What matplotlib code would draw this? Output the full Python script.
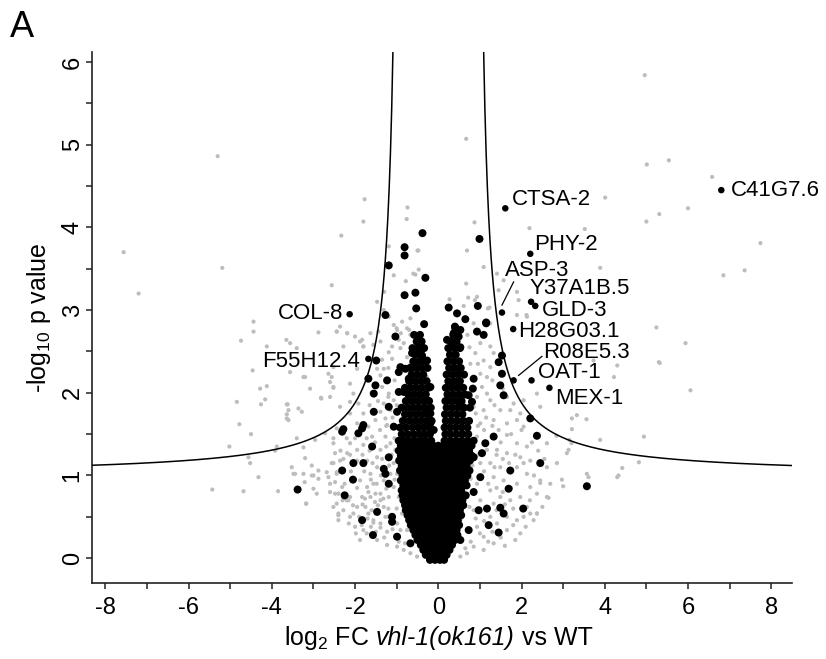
import matplotlib.pyplot as plt
import numpy as np
from matplotlib.offsetbox import TextArea, HPacker, AnchoredOffsetbox

plt.rcParams['font.family'] = ['Liberation Sans', 'DejaVu Sans']
plt.rcParams['axes.unicode_minus'] = False
plt.rcParams['mathtext.fontset'] = 'custom'
plt.rcParams['mathtext.rm'] = 'Liberation Sans'
plt.rcParams['mathtext.it'] = 'Liberation Sans:italic'

# ---- data: (log2 FC, -log10 p) ----
grey_pts = [
    # far field, top
    (-5.30, 4.86), (-7.56, 3.70), (-7.20, 3.20), (-5.19, 3.51), (-1.77, 4.34), (-1.80, 4.07),
    (-2.33, 3.90), (-2.56, 3.30), (-4.44, 2.86), (-0.74, 4.24), (-0.76, 4.10), (-1.19, 3.77),
    (-1.07, 3.42), (-0.50, 3.72), (-0.78, 3.35), (-0.60, 3.44), (-1.47, 3.10), (-1.30, 3.22),
    (-1.31, 3.00), (-2.36, 2.80), (-1.00, 2.78), (-0.90, 2.72), (-0.70, 2.76), (-0.48, 3.72),
    (-0.55, 3.43), (-0.47, 3.49),
    (4.96, 5.84), (0.67, 5.07), (5.01, 4.76), (5.54, 4.81), (6.58, 4.61), (4.01, 4.36),
    (6.00, 4.23), (5.31, 4.16), (5.00, 4.07), (7.74, 3.81), (6.85, 3.42), (7.36, 3.48),
    (3.52, 3.98), (2.19, 3.99), (3.89, 3.51), (0.87, 4.06), (0.69, 3.72), (1.09, 3.52),
    (0.67, 3.32), (1.41, 3.44), (1.93, 3.12), (2.12, 2.94), (1.45, 3.24), (0.72, 3.15),
    (0.88, 3.12), (0.93, 3.16), (1.19, 3.02), (1.57, 3.36), (0.27, 3.13), (1.23, 3.03),
    (0.61, 3.05), (1.89, 3.22),
    # right field
    (5.30, 2.37), (4.30, 2.33), (4.22, 2.19), (3.73, 2.39), (3.21, 1.69), (3.33, 1.73),
    (3.56, 1.68), (3.21, 1.56), (2.84, 1.48), (3.89, 1.43), (4.94, 1.47), (3.15, 1.43),
    (3.20, 1.39), (3.09, 1.27), (3.13, 1.31), (2.61, 1.10), (2.85, 1.15), (4.42, 1.09),
    (4.82, 1.16), (4.30, 0.98), (3.57, 1.02), (3.61, 0.98), (2.97, 0.95), (3.00, 0.87),
    (2.65, 0.73), (2.45, 0.91), (5.24, 2.79), (5.94, 2.60), (5.32, 2.36), (6.06, 2.03),
    (4.33, 1.00), (2.21, 0.54), (2.37, 0.54),
    # left field
    (-4.44, 2.74), (-4.74, 2.63), (-3.65, 2.64), (-3.56, 2.60), (-2.88, 2.73), (-2.44, 2.74),
    (-2.19, 2.72), (-1.88, 2.62), (-1.80, 2.56), (-4.12, 2.56), (-3.40, 2.54), (-4.46, 2.27),
    (-3.20, 2.19), (-2.52, 2.31), (-1.95, 2.29), (-4.28, 2.05), (-4.12, 2.08), (-3.08, 2.05),
    (-2.52, 2.06), (-4.84, 1.89), (-4.16, 1.92), (-3.64, 1.86), (-3.60, 1.79), (-3.36, 1.81),
    (-3.28, 1.77), (-2.82, 1.94), (-2.12, 1.89), (-3.64, 1.69), (-4.78, 1.62), (-4.50, 1.50),
    (-2.44, 1.57), (-1.88, 1.51), (-5.02, 1.35), (-3.88, 1.35), (-3.40, 1.45), (-2.52, 1.45),
    (-4.56, 1.22), (-4.52, 1.15), (-3.52, 1.10), (-3.04, 1.12), (-2.88, 1.06), (-3.48, 1.02),
    (-3.24, 1.02), (-3.04, 1.00), (-4.32, 0.98), (-2.52, 1.15), (-2.28, 1.20), (-2.12, 1.25),
    (-5.43, 0.83), (-4.68, 0.81), (-3.85, 0.81), (-3.17, 0.66), (-2.92, 0.78), (-2.60, 0.80),
    (-2.40, 0.54), (-2.04, 0.54), (-2.20, 0.70), (-1.68, 0.54), (-1.56, 0.43), (-1.84, 0.40),
    (-1.39, 0.37), (-1.03, 0.27), (-1.19, 0.50), (-1.68, 0.80), (-1.76, 0.72), (-1.52, 0.68),
    (-3.56, 2.25), (-3.24, 2.19), (-2.64, 2.23), (-2.60, 2.13), (-2.52, 2.07), (-2.81, 1.93),
    (-4.26, 1.86), (-3.62, 1.86), (-3.64, 1.74), (-3.60, 1.67), (-3.92, 1.30), (-3.24, 1.34),
    (-2.96, 1.43), (-2.72, 1.51), (-3.20, 1.21), (-3.44, 1.02), (-3.21, 0.92), (-3.00, 1.00),
    (-2.88, 0.96), (-2.68, 1.04), (-2.64, 0.98), (-3.00, 0.84), (-3.18, 0.66), (-2.44, 1.04),
    (-2.48, 0.92), (-2.40, 0.78), (-2.44, 0.66), (-2.40, 0.52),
    # left arm halo
    (-1.19, 2.92), (-1.07, 2.82), (-0.87, 2.86), (-0.67, 2.90), (-0.99, 2.76), (-0.75, 2.78),
    (-0.95, 2.64), (-0.83, 2.60), (-0.67, 2.70), (-1.11, 2.56), (-0.91, 2.54), (-1.19, 2.49),
    (-1.39, 2.62), (-1.44, 2.74), (-1.63, 2.72), (-1.83, 2.64), (-1.80, 2.56), (-1.56, 2.58),
    (-2.44, 2.74), (-2.19, 2.72), (-2.00, 2.68), (-2.28, 2.56), (-1.47, 2.29), (-1.31, 2.29),
    (-1.39, 2.21), (-1.11, 2.41), (-0.75, 2.43), (-0.67, 2.35), (-0.55, 2.21), (-0.27, 2.19),
    (-1.35, 2.07), (-1.19, 1.99), (-1.07, 1.91), (-1.31, 1.87), (-0.75, 1.91), (-0.67, 1.85),
    (-1.15, 1.79), (-1.39, 1.77), (-1.51, 1.67), (-1.27, 1.69), (-1.23, 1.61), (-0.91, 1.67),
    (-0.55, 1.61), (-1.68, 1.59), (-1.95, 1.63), (-2.12, 1.75), (-2.36, 1.83), (-2.60, 1.95),
    (-2.56, 2.19), (-2.12, 2.11), (-2.04, 1.99), (-1.92, 1.87),
    (-1.10, 1.70), (-1.00, 1.85), (-1.20, 1.95), (-1.45, 1.90), (-1.65, 1.85), (-1.80, 1.75),
    (-1.60, 2.00), (-1.35, 2.40), (-1.20, 2.30), (-1.05, 2.15), (-1.40, 1.55), (-1.25, 1.60),
    # right arm halo
    (1.89, 2.94), (2.13, 2.92), (1.25, 2.84), (0.85, 2.84), (1.01, 2.60), (1.25, 2.56),
    (1.33, 2.48), (0.89, 2.48), (1.09, 2.39), (1.25, 2.31), (1.01, 2.23), (0.77, 2.35),
    (0.61, 2.23), (1.17, 2.19), (0.53, 2.11), (1.05, 2.07), (1.17, 1.99), (0.93, 1.95),
    (1.25, 1.91), (1.65, 1.95), (1.81, 1.87), (2.05, 1.91), (1.49, 1.79), (1.73, 1.79),
    (1.97, 1.75), (1.09, 1.79), (0.85, 1.83), (0.61, 1.87), (0.53, 1.99), (1.33, 1.67),
    (1.01, 1.63), (0.69, 1.67), (1.65, 1.63), (1.89, 1.67), (2.05, 1.59), (2.37, 1.99),
    (2.45, 1.83),
    (1.30, 1.60), (1.45, 1.55), (1.75, 1.50), (2.00, 1.55), (2.25, 1.40), (1.10, 1.55),
    (0.95, 1.60), (0.90, 1.75), (1.15, 1.70), (1.35, 1.85), (1.55, 2.05), (1.30, 2.15),
    (0.95, 2.35), (0.75, 2.55), (0.70, 2.70),
    # left core halo
    (-2.52, 1.39), (-2.48, 1.27), (-2.56, 1.15), (-2.44, 1.02), (-2.60, 0.90), (-2.48, 0.78),
    (-2.52, 0.62), (-2.28, 0.58), (-2.40, 0.46), (-2.12, 0.50), (-2.00, 0.38), (-2.16, 0.70),
    (-1.95, 0.62), (-1.83, 0.74), (-1.71, 0.86), (-1.88, 0.94), (-1.63, 1.02), (-1.47, 1.10),
    (-1.71, 1.18), (-1.47, 1.22), (-2.12, 1.39), (-1.80, 1.37), (-2.36, 1.18), (-2.19, 1.27),
    (-1.95, 1.31), (-1.59, 1.47), (-1.27, 1.47), (-1.15, 1.39), (-1.39, 1.31), (-1.07, 1.15),
    (-1.56, 0.90), (-1.39, 0.78), (-1.63, 0.74), (-1.75, 0.62), (-1.56, 0.46), (-1.31, 0.62),
    (-1.39, 0.42), (-1.23, 0.32), (-1.80, 0.34), (-1.47, 0.22), (-1.23, 0.16), (-0.99, 0.14),
    (-0.83, 0.10), (-0.67, 0.06), (-0.51, 0.02), (-1.88, 0.22), (-2.12, 0.74), (-2.31, 0.86),
    (-1.19, 0.74), (-1.27, 0.50), (-0.99, 0.42), (-0.91, 0.34), (-1.07, 0.86), (-1.15, 1.02),
    (-1.31, 0.94), (-1.51, 0.78), (-1.39, 0.70), (-1.03, 1.31), (-0.99, 1.02), (-0.95, 0.74),
    (-0.87, 0.54), (-0.75, 0.34),
    (-1.05, 1.45), (-1.12, 1.25), (-1.18, 1.12), (-1.25, 0.84), (-1.32, 0.72), (-1.45, 0.64),
    (-1.60, 0.58), (-1.70, 0.48), (-1.90, 0.50), (-2.05, 0.64), (-2.25, 0.90), (-2.10, 1.05),
    (-1.95, 1.18), (-1.82, 1.25), (-1.65, 1.30), (-1.52, 1.40), (-1.00, 0.60), (-1.10, 0.35),
    (-1.30, 0.25), (-0.95, 0.20), (-0.80, 0.18), (-1.50, 0.32), (-1.62, 0.38), (-1.72, 0.30),
    (-1.98, 0.30), (-2.15, 0.42), (-2.30, 0.70), (-2.35, 1.30), (-2.20, 1.45), (-2.00, 1.45),
    (-1.72, 1.45), (-1.35, 1.20), (-1.25, 1.35), (-1.58, 1.15), (-1.78, 1.05), (-1.95, 0.85),
    (-1.82, 0.65), (-1.48, 0.90), (-1.62, 0.95), (-1.38, 1.00), (-1.20, 0.60), (-1.05, 0.95),
    # right core halo
    (0.69, 1.49), (0.93, 1.47), (1.65, 1.49), (1.89, 1.39), (2.13, 1.35), (2.61, 1.39),
    (1.41, 1.31), (1.65, 1.27), (1.97, 1.22), (2.21, 1.18), (1.25, 1.15), (1.49, 1.10),
    (1.89, 1.10), (2.13, 1.02), (2.45, 0.94), (2.61, 0.74), (1.33, 0.98), (1.57, 0.94),
    (1.89, 0.90), (2.21, 0.86), (1.25, 0.82), (1.49, 0.74), (1.97, 0.74), (2.37, 0.78),
    (1.01, 0.70), (1.33, 0.66), (1.73, 0.70), (2.13, 0.62), (2.37, 0.54), (0.85, 0.58),
    (1.25, 0.50), (1.65, 0.50), (1.89, 0.46), (0.93, 0.38), (1.41, 0.42), (1.09, 0.26),
    (1.33, 0.18), (0.85, 0.14), (0.69, 0.06), (0.53, 0.02), (1.09, 0.10), (1.65, 0.34),
    (1.97, 0.30), (2.29, 0.46), (2.69, 0.90), (0.77, 1.06), (0.93, 0.90), (0.69, 0.74),
    (0.53, 0.46), (0.53, 0.90), (0.61, 1.31), (0.77, 1.43), (1.01, 1.15), (1.17, 1.31),
    (0.80, 1.35), (0.95, 1.25), (1.10, 1.05), (1.20, 0.90), (1.40, 0.85), (1.55, 0.80),
    (1.75, 0.85), (1.80, 0.60), (1.60, 0.65), (1.40, 0.58), (1.10, 0.45), (1.00, 0.30),
    (1.20, 0.20), (1.50, 0.25), (1.80, 0.40), (2.05, 0.50), (2.20, 0.70), (2.30, 1.00),
    (2.05, 1.15), (1.85, 1.25), (1.50, 1.40), (0.78, 0.20), (0.65, 0.12), (0.90, 0.48),
    (0.75, 0.62), (0.65, 0.88), (0.78, 0.96), (0.82, 1.12), (1.30, 0.32), (1.60, 0.15),
    (1.85, 0.22), (2.10, 0.38), (2.50, 0.62), (2.55, 1.20), (2.40, 1.30), (1.55, 1.20),
    (1.70, 1.15), (1.35, 1.10), (1.40, 1.25),
]

# dense black core, one row per -log10 p level
core_rows = [
    (-0.02, [-0.20, -0.08, 0.04, 0.14]),
    (0.04, [-0.30, -0.17, -0.04, 0.09, 0.20]),
    (0.10, [-0.36, -0.24, -0.11, 0.02, 0.15, 0.27]),
    (0.16, [-0.42, -0.30, -0.17, -0.04, 0.09, 0.22, 0.33]),
    (0.22, [-0.50, -0.37, -0.24, -0.11, 0.02, 0.15, 0.28, 0.40]),
    (0.28, [-0.55, -0.42, -0.29, -0.16, -0.03, 0.10, 0.23, 0.36, 0.46]),
    (0.34, [-0.60, -0.47, -0.34, -0.21, -0.08, 0.05, 0.18, 0.31, 0.44]),
    (0.40, [-0.66, -0.53, -0.40, -0.27, -0.14, -0.01, 0.12, 0.25, 0.38, 0.50]),
    (0.46, [-0.70, -0.57, -0.44, -0.31, -0.18, -0.05, 0.08, 0.21, 0.34, 0.47]),
    (0.52, [-0.74, -0.61, -0.48, -0.35, -0.22, -0.09, 0.04, 0.17, 0.30, 0.43, 0.55]),
    (0.58, [-0.78, -0.65, -0.52, -0.39, -0.26, -0.13, 0.00, 0.13, 0.26, 0.39, 0.52]),
    (0.64, [-0.80, -0.67, -0.54, -0.41, -0.28, -0.15, -0.02, 0.11, 0.24, 0.37, 0.50, 0.60]),
    (0.70, [-0.84, -0.71, -0.58, -0.45, -0.32, -0.19, -0.06, 0.07, 0.20, 0.33, 0.46, 0.58]),
    (0.76, [-0.86, -0.73, -0.60, -0.47, -0.34, -0.21, -0.08, 0.05, 0.18, 0.31, 0.44, 0.57, 0.66]),
    (0.82, [-0.88, -0.75, -0.62, -0.49, -0.36, -0.23, -0.10, 0.03, 0.16, 0.29, 0.42, 0.55]),
    (0.88, [-0.84, -0.71, -0.58, -0.45, -0.32, -0.19, -0.06, 0.07, 0.20, 0.33, 0.46, 0.59, 0.68]),
    (0.94, [-0.90, -0.77, -0.64, -0.51, -0.38, -0.25, -0.12, 0.01, 0.14, 0.27, 0.40, 0.53, 0.64]),
    (1.00, [-0.86, -0.73, -0.60, -0.47, -0.34, -0.21, -0.08, 0.05, 0.18, 0.31, 0.44, 0.57, 0.70]),
    (1.06, [-0.92, -0.79, -0.66, -0.53, -0.40, -0.27, -0.14, -0.01, 0.12, 0.25, 0.38, 0.51, 0.64, 0.75]),
    (1.12, [-0.88, -0.75, -0.62, -0.49, -0.36, -0.23, -0.10, 0.03, 0.16, 0.29, 0.42, 0.55, 0.68]),
    (1.18, [-0.94, -0.81, -0.68, -0.55, -0.42, -0.29, -0.16, -0.03, 0.10, 0.23, 0.36, 0.49, 0.62, 0.76]),
    (1.24, [-0.90, -0.77, -0.64, -0.51, -0.38, -0.25, -0.12, 0.01, 0.14, 0.27, 0.40, 0.53, 0.66, 0.80]),
    (1.30, [-0.95, -0.82, -0.69, -0.56, -0.43, -0.30, -0.17, -0.04, 0.09, 0.22, 0.35, 0.48, 0.61, 0.74]),
    (1.36, [-0.90, -0.78, -0.64, -0.50, -0.37, -0.24, -0.12, 0.00, 0.12, 0.25, 0.38, 0.52, 0.66, 0.80]),
    (1.42, [-0.95, -0.83, -0.70, -0.56, -0.42, -0.30, -0.17, 0.15, 0.28, 0.42, 0.56, 0.70, 0.85]),
    (1.50, [-0.88, -0.74, -0.60, -0.46, -0.33, -0.20, 0.17, 0.30, 0.44, 0.58, 0.72]),
    (1.58, [-0.92, -0.78, -0.62, -0.48, -0.35, -0.22, 0.15, 0.28, 0.42, 0.56, 0.70]),
    (1.66, [-0.85, -0.70, -0.56, -0.42, -0.28, -0.16, 0.18, 0.32, 0.46, 0.60, 0.74]),
    (1.74, [-0.80, -0.66, -0.52, -0.38, -0.25, 0.16, 0.30, 0.44, 0.58]),
    (1.82, [-0.88, -0.74, -0.60, -0.46, -0.32, -0.18, 0.20, 0.34, 0.48, 0.62, 0.76]),
    (1.90, [-0.78, -0.64, -0.50, -0.36, -0.22, 0.17, 0.30, 0.44, 0.56]),
    (1.98, [-0.72, -0.58, -0.44, -0.30, 0.22, 0.36, 0.50, 0.64]),
    (2.06, [-0.80, -0.66, -0.52, -0.38, -0.24, 0.18, 0.32, 0.46, 0.60]),
    (2.14, [-0.70, -0.56, -0.42, -0.28, 0.24, 0.38, 0.52]),
    (2.22, [-0.64, -0.50, -0.36, 0.20, 0.34, 0.48, 0.62]),
    (2.30, [-0.68, -0.54, -0.40, -0.26, 0.26, 0.40, 0.54]),
    (2.38, [-0.60, -0.46, -0.32, 0.22, 0.36, 0.50]),
    (2.46, [-0.55, -0.41, 0.28, 0.42]),
    (2.54, [-0.62, -0.48, -0.34, 0.24, 0.38, 0.52]),
    (2.62, [-0.52, -0.40, 0.30, 0.44]),
    (2.70, [-0.58, -0.44, 0.36]),
]

black_pts = [
    (-0.38, 3.93), (0.99, 3.86), (-0.81, 3.76), (-0.81, 3.66), (-1.19, 3.54), (-0.31, 3.39),
    (-0.81, 3.18), (-0.55, 3.21), (-0.53, 3.02), (-1.27, 2.94), (0.25, 3.03), (0.45, 2.96),
    (0.65, 2.89), (0.95, 3.05), (1.15, 2.85), (-0.34, 2.83), (0.40, 2.80),
    (-1.03, 2.68), (-0.47, 2.64), (-0.45, 2.56), (-0.63, 2.48), (-0.39, 2.45), (-0.27, 2.39),
    (-1.49, 2.39), (-0.91, 2.31), (-0.95, 2.25), (-0.79, 2.29), (-1.68, 2.17), (-1.23, 2.15),
    (-0.71, 2.17), (-1.51, 2.09), (-1.55, 1.99), (-0.95, 2.01), (-0.83, 2.01), (-0.19, 2.07),
    (-0.27, 1.91), (-1.55, 1.77), (-1.19, 1.83), (-0.99, 1.77), (-0.19, 1.75), (-0.19, 1.63),
    (-1.80, 1.61), (-1.83, 1.57), (-2.28, 1.56), (-1.07, 1.59), (-0.11, 1.55),
    (-2.31, 1.53), (-1.92, 1.51), (-1.59, 1.35), (-1.19, 1.22), (-2.04, 1.15), (-1.80, 1.15),
    (-2.31, 1.06), (-1.31, 1.08), (-1.27, 1.02), (-2.05, 0.95), (-1.19, 0.90), (-2.25, 0.76),
    (-1.47, 0.56), (-1.11, 0.50), (-1.11, 0.44), (-1.83, 0.46), (-1.57, 0.28), (-0.99, 0.26),
    (-0.67, 0.18), (-3.38, 0.83),
    (1.33, 1.47), (1.13, 1.39), (2.37, 1.48), (0.85, 1.22), (1.05, 1.27), (2.45, 1.15),
    (1.73, 1.06), (1.01, 0.98), (1.69, 0.84), (0.85, 0.80), (1.17, 0.60), (1.49, 0.61),
    (1.57, 0.54), (2.04, 0.60), (0.97, 0.58), (1.21, 0.40), (1.45, 0.31), (0.73, 0.34),
    (0.53, 0.22), (3.57, 0.87),
    (1.15, 2.84), (0.41, 2.78), (0.53, 2.76), (0.37, 2.72), (0.49, 2.68), (0.93, 2.74),
    (1.09, 2.70), (0.21, 2.64), (0.37, 2.60), (0.53, 2.55), (1.53, 2.45), (1.45, 2.37),
    (1.53, 2.23), (1.49, 2.09), (1.57, 1.97), (0.85, 2.17), (0.83, 2.05), (0.73, 1.97),
    (0.81, 1.89), (2.21, 1.69),
]

genes = ['C41G7.6', 'CTSA-2', 'PHY-2', 'ASP-3', 'Y37A1B.5', 'GLD-3', 'H28G03.1',
         'R08E5.3', 'OAT-1', 'MEX-1', 'COL-8', 'F55H12.4']
gene_fc = [6.80, 1.61, 2.21, 1.53, 2.23, 2.33, 1.80, 1.81, 2.24, 2.67, -2.13, -1.68]
gene_p = [4.45, 4.23, 3.68, 2.97, 3.10, 3.05, 2.77, 2.15, 2.15, 2.06, 2.95, 2.41]
label_fc = [7.04, 1.77, 2.31, 1.59, 2.20, 2.49, 1.93, 2.53, 2.39, 2.81, -2.28, -1.88]
label_p = [4.45, 4.34, 3.79, 3.48, 3.26, 3.00, 2.74, 2.49, 2.25, 1.93, 2.96, 2.38]
label_ha = ['left'] * 10 + ['right', 'right']
# leader lines: ASP-3 and R08E5.3
leaders = [([1.53, 1.81], [3.06, 3.34]), ([1.93, 2.49], [2.21, 2.44])]

# threshold curve parameters: p = p0 + c / (|FC| - s0)
s0, c_thr, p0 = 0.90, 0.975, 0.992

fig = plt.figure(figsize=(8.26, 6.59), dpi=100)
ax = fig.add_axes([0.1114, 0.1153, 0.8475, 0.8058])

gx, gy = zip(*grey_pts)
ax.scatter(gx, gy, s=9, c='#bdbdbd', edgecolors='none', zorder=2)

bx = [x for y, xs in core_rows for x in xs] + [p[0] for p in black_pts]
by = [y for y, xs in core_rows for x in xs] + [p[1] for p in black_pts]
ax.scatter(bx, by, s=33, c='black', edgecolors='none', zorder=3)
ax.scatter(gene_fc, gene_p, s=22, c='black', edgecolors='none', zorder=4)

xc = np.linspace(s0 + 0.05, 8.6, 500)
yc = p0 + c_thr / (xc - s0)
keep = yc < 6.5
ax.plot(xc[keep], yc[keep], color='black', lw=1.1, zorder=5)
ax.plot(-xc[keep], yc[keep], color='black', lw=1.1, zorder=5)

for name, x, y, ha in zip(genes, label_fc, label_p, label_ha):
    ax.text(x, y, name, fontsize=16, ha=ha, va='center', zorder=6)
for lx, ly in leaders:
    ax.plot(lx, ly, color='black', lw=0.9, zorder=5)

ax.set_xlim(-8.32, 8.5)
ax.set_ylim(-0.30, 6.12)
ax.set_xticks(range(-8, 9, 2))
ax.set_xticks(range(-7, 9, 2), minor=True)
ax.set_yticks(range(0, 7))
ax.set_yticks(np.arange(0.5, 6.0, 1.0), minor=True)
ax.tick_params(which='both', direction='out', width=1.1, length=4, labelsize=17, color='#222222')
ax.tick_params(axis='x', pad=6)
ax.tick_params(axis='y', pad=2)
for lbl in ax.get_yticklabels():
    lbl.set_rotation(90)
    lbl.set_va('center')

for side in ['top', 'right']:
    ax.spines[side].set_visible(False)
for side in ['left', 'bottom']:
    ax.spines[side].set_linewidth(1.2)
    ax.spines[side].set_color('#222222')

# x label with an italic strain name
xlab = HPacker(children=[TextArea(r'log$_2$ FC', textprops=dict(fontsize=18)),
                         TextArea('vhl-1(ok161)', textprops=dict(fontsize=18, style='italic')),
                         TextArea('vs WT', textprops=dict(fontsize=18))],
               align='baseline', pad=0, sep=5)
fig.add_artist(AnchoredOffsetbox(loc='center', child=xlab, frameon=False, pad=0, borderpad=0,
                                 bbox_to_anchor=(438 / 826, 1 - 638 / 659),
                                 bbox_transform=fig.transFigure))
ax.set_ylabel(r'-log$_{10}$ p value', fontsize=18, labelpad=6)

fig.text(0.012, 0.985, 'A', fontsize=26, va='top', ha='left')

fig.savefig('out.png', dpi=100)
